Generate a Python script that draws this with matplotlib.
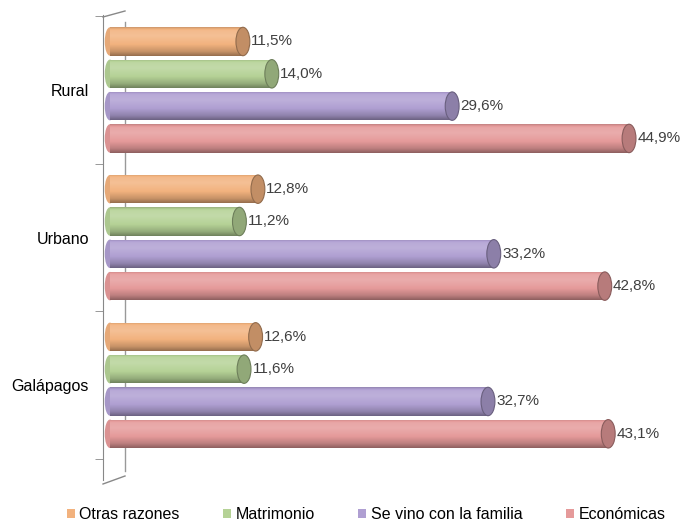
import matplotlib.pyplot as plt
import numpy as np
from matplotlib.colors import to_rgb
from matplotlib.patches import Ellipse
from matplotlib.lines import Line2D

plt.rcParams['font.family'] = ['Liberation Sans', 'DejaVu Sans']

regions = ["Rural", "Urbano", "Galápagos"]
series = ["Otras razones", "Matrimonio", "Se vino con la familia", "Económicas"]
otras = [11.5, 12.8, 12.6]
matrimonio = [14.0, 11.2, 11.6]
familia = [29.6, 33.2, 32.7]
economicas = [44.9, 42.8, 43.1]
values = [otras, matrimonio, familia, economicas]
colours = ["#F2B27E", "#B5D296", "#AF9FD2", "#E59A9A"]

fig = plt.figure(figsize=(6.88, 5.25), dpi=100)
ax = fig.add_axes([103 / 688, 45 / 525, 585 / 688, 465 / 525])

group_gap = 4.57
bar_h = 0.88
centers = np.arange(len(regions)) * group_gap


def shade(c, f):
    c = np.array(to_rgb(c))
    if f >= 1:
        return c + (1 - c) * (f - 1)
    return c * f


# vertical light profile of a cylinder: dark top edge, highlight, base, dark bottom
profile = np.interp(np.linspace(0, 1, 60), [0, 0.12, 0.3, 0.6, 0.85, 1.0],
                    [0.85, 1.12, 1.18, 1.0, 0.82, 0.62])

for i, (name, vals, col) in enumerate(zip(series, values, colours)):
    ypos = centers + (i - 1.5)
    bars = ax.barh(ypos, vals, height=bar_h, color=col, label=name, zorder=2)
    grad = np.array([shade(col, f) for f in profile])[:, None, :]
    for p, v, y in zip(bars.patches, vals, ypos):
        im = ax.imshow(grad, extent=[0, v, y + bar_h / 2, y - bar_h / 2],
                       aspect='auto', origin='upper', zorder=3)
        im.set_clip_path(p)
        ax.add_patch(Ellipse((0, y), 0.9, bar_h, facecolor=shade(col, 0.95),
                             edgecolor='none', zorder=2.5))
        ax.add_patch(Ellipse((v, y), 1.2, bar_h, facecolor=shade(col, 0.8),
                             edgecolor=shade(col, 0.6), lw=0.8, zorder=4))
    ax.bar_label(bars, labels=[f"{v:.1f}%".replace(".", ",") for v in vals],
                 padding=6, fontsize=11, color="#404040", zorder=5)

ax.set_xlim(-0.6, 50.0)
ax.set_ylim(12.07, -2.32)
ax.set_yticks(centers)
ax.set_yticklabels(regions, fontsize=11.5)
ax.set_yticks(np.arange(len(regions) + 1) * group_gap - group_gap / 2, minor=True)
ax.tick_params(axis='y', which='major', length=0, pad=10)
ax.tick_params(axis='y', which='minor', length=6, color="#888888", direction='out')
ax.set_xticks([])
for s in ["top", "right", "bottom"]:
    ax.spines[s].set_visible(False)
ax.spines["left"].set_color("#888888")

# back wall of the 3D frame
ax.plot([1.28, 1.28], [-2.1, 11.8], color="#999999", lw=1, zorder=1)
fig.add_artist(Line2D([103 / 688, 125 / 688], [1 - 17 / 525, 1 - 11 / 525],
                      color="#888888", lw=1))
fig.add_artist(Line2D([103 / 688, 125 / 688], [1 - 484 / 525, 1 - 476 / 525],
                      color="#888888", lw=1))

handles, labels = ax.get_legend_handles_labels()
fig.legend(handles, labels, loc='center', bbox_to_anchor=(0.532, 0.02), ncol=4,
           frameon=False, fontsize=11.5, handlelength=0.5, handleheight=0.5,
           handletextpad=0.3, columnspacing=2.7)

fig.savefig("out.png", dpi=100)
